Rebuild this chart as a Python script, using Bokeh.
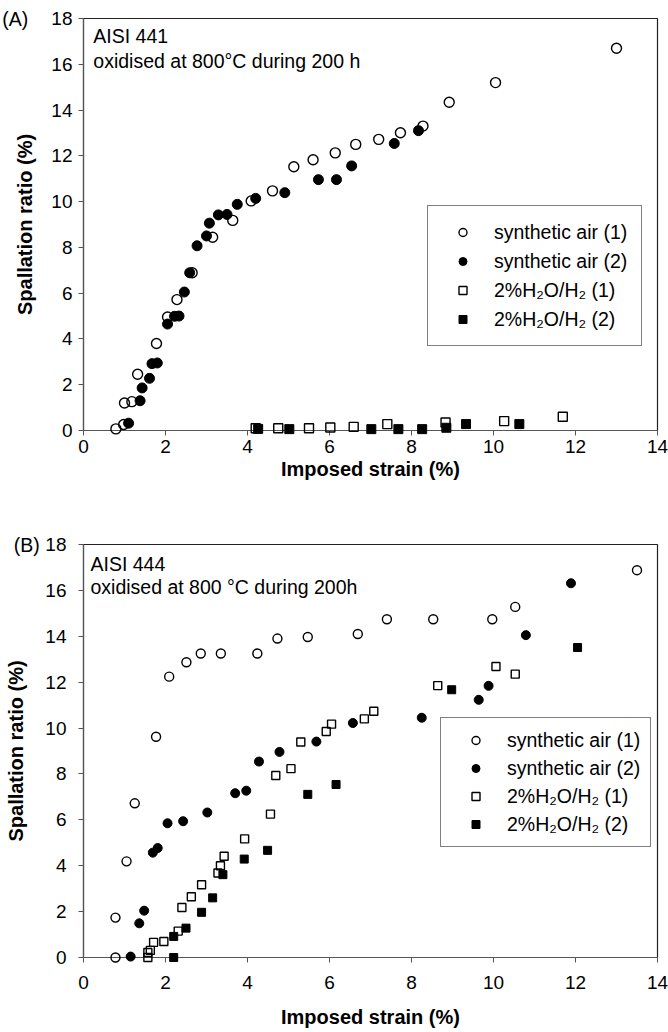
from bokeh.plotting import figure
from bokeh.layouts import column
from bokeh.models import Range1d, FixedTicker, Label, Legend, LegendItem
from bokeh.core.properties import value
from bokeh.embed import file_html
from bokeh.resources import INLINE

FONT = "Liberation Sans"

x_ticks = [0, 2, 4, 6, 8, 10, 12, 14]
y_ticks = [0, 2, 4, 6, 8, 10, 12, 14, 16, 18]

legend_labels = ["synthetic air (1)", "synthetic air (2)", "2%H\u2082O/H\u2082 (1)", "2%H\u2082O/H\u2082 (2)"]

# ---------------- Panel A : AISI 441 ----------------
a_air1_x = [0.79, 0.98, 1.00, 1.18, 1.32, 1.78, 2.05, 2.28, 2.65, 3.15, 3.64, 4.09, 4.61, 5.13, 5.60, 6.14, 6.64, 7.20, 7.73, 8.28, 8.92, 10.05, 13.0]
a_air1_y = [0.07, 0.26, 1.20, 1.26, 2.46, 3.80, 4.96, 5.72, 6.89, 8.44, 9.18, 10.03, 10.47, 11.52, 11.83, 12.13, 12.50, 12.72, 13.01, 13.30, 14.34, 15.20, 16.70]
a_air2_x = [1.10, 1.38, 1.43, 1.61, 1.67, 1.80, 2.05, 2.22, 2.33, 2.46, 2.59, 2.77, 3.00, 3.07, 3.29, 3.50, 3.75, 4.20, 4.91, 5.73, 6.17, 6.54, 7.58, 8.17]
a_air2_y = [0.32, 1.30, 1.86, 2.28, 2.92, 2.95, 4.65, 4.99, 5.00, 6.05, 6.89, 8.07, 8.50, 9.06, 9.42, 9.44, 9.88, 10.14, 10.39, 10.96, 10.96, 11.56, 12.54, 13.10]
a_h2o1_x = [4.20, 4.75, 5.50, 6.02, 6.59, 7.41, 8.83, 10.26, 11.69]
a_h2o1_y = [0.10, 0.10, 0.10, 0.13, 0.16, 0.28, 0.35, 0.41, 0.60]
a_h2o2_x = [4.26, 5.02, 7.02, 7.68, 8.26, 8.85, 9.33, 10.63]
a_h2o2_y = [0.07, 0.06, 0.06, 0.06, 0.06, 0.12, 0.28, 0.28]

# ---------------- Panel B : AISI 444 ----------------
b_air1_x = [0.78, 0.78, 1.05, 1.25, 1.77, 2.09, 2.51, 2.86, 3.35, 4.24, 4.73, 5.47, 6.69, 7.40, 8.53, 9.97, 10.53, 13.50]
b_air1_y = [0.00, 1.74, 4.19, 6.72, 9.62, 12.24, 12.87, 13.25, 13.25, 13.25, 13.90, 13.97, 14.10, 14.74, 14.74, 14.74, 15.28, 16.88]
b_air2_x = [1.15, 1.36, 1.48, 1.69, 1.81, 2.05, 2.43, 3.02, 3.70, 3.97, 4.28, 4.78, 5.68, 6.57, 8.25, 9.64, 9.88, 10.79, 11.89]
b_air2_y = [0.04, 1.49, 2.04, 4.57, 4.77, 5.85, 5.94, 6.32, 7.16, 7.27, 8.54, 8.96, 9.41, 10.22, 10.45, 11.23, 11.84, 14.05, 16.31]
b_h2o1_x = [1.57, 1.57, 1.63, 1.71, 1.96, 2.31, 2.40, 2.63, 2.88, 3.28, 3.34, 3.43, 3.93, 4.56, 4.69, 5.06, 5.30, 5.92, 6.05, 6.85, 7.08, 8.64, 10.06, 10.53]
b_h2o1_y = [0.00, 0.22, 0.31, 0.66, 0.70, 1.15, 2.18, 2.65, 3.17, 3.68, 4.00, 4.41, 5.17, 6.25, 7.93, 8.23, 9.39, 9.85, 10.17, 10.40, 10.73, 11.85, 12.68, 12.35]
b_h2o2_x = [2.20, 2.20, 2.50, 2.88, 3.15, 3.40, 3.92, 4.49, 5.47, 6.16, 8.98, 12.05]
b_h2o2_y = [0.00, 0.92, 1.28, 1.97, 2.60, 3.61, 4.29, 4.67, 7.11, 7.54, 11.67, 13.51]


def make_panel(height, border_top, border_left, border_bottom, series, msize_c, msize_s,
               ytick_standoff, xtick_standoff, ylab_standoff, xlab_standoff,
               panel_label, panel_label_x, title1, title2, title_x, title_y1, title_y2,
               legend_loc, legend_pad, legend_spacing, legend_glyph_w, legend_standoff):
    p = figure(width=668, height=height, output_backend="svg", toolbar_location=None,
               x_range=Range1d(0, 14), y_range=Range1d(0, 18),
               min_border_top=border_top, min_border_left=border_left,
               min_border_bottom=border_bottom, min_border_right=11)
    p.background_fill_color = "white"
    p.border_fill_color = "white"
    p.outline_line_color = "#222222"
    p.outline_line_width = 1.2
    p.xgrid.visible = False
    p.ygrid.visible = False

    p.xaxis.ticker = FixedTicker(ticks=x_ticks, minor_ticks=[])
    p.yaxis.ticker = FixedTicker(ticks=y_ticks, minor_ticks=[])
    for ax in (p.xaxis[0], p.yaxis[0]):
        ax.axis_line_color = "#555555"
        ax.axis_line_width = 1.2
        ax.major_tick_line_color = "#555555"
        ax.major_tick_in = 0
        ax.major_tick_out = 5
        ax.minor_tick_out = 0
        ax.minor_tick_in = 0
        ax.major_label_text_font = FONT
        ax.major_label_text_font_size = "19px"
        ax.major_label_text_color = "black"
        ax.axis_label_text_font = FONT
        ax.axis_label_text_font_size = "20px"
        ax.axis_label_text_font_style = "bold"
        ax.axis_label_text_color = "black"
    p.xaxis.axis_label = "Imposed strain (%)"
    p.yaxis.axis_label = "Spallation ratio (%)"
    p.xaxis.major_label_standoff = xtick_standoff
    p.yaxis.major_label_standoff = ytick_standoff
    p.xaxis.axis_label_standoff = xlab_standoff
    p.yaxis.axis_label_standoff = ylab_standoff

    (x1, y1), (x2, y2), (x3, y3), (x4, y4) = series
    r1 = p.scatter(x1, y1, marker="circle", size=msize_c, fill_color=None, line_color="black", line_width=1.4)
    r2 = p.scatter(x2, y2, marker="circle", size=msize_c, fill_color="black", line_color="black", line_width=1)
    r3 = p.scatter(x3, y3, marker="square", size=msize_s, fill_color=None, line_color="black", line_width=1.4)
    r4 = p.scatter(x4, y4, marker="square", size=msize_s, fill_color="black", line_color="black", line_width=1)
    for r in (r1, r2, r3, r4):
        r.level = "overlay"

    legend = Legend(items=[LegendItem(label=lab, renderers=[r]) for lab, r in zip(legend_labels, (r1, r2, r3, r4))],
                    location=legend_loc, margin=0, padding=legend_pad, spacing=legend_spacing,
                    glyph_width=legend_glyph_w, glyph_height=20, label_height=24, label_standoff=legend_standoff,
                    label_text_font=FONT, label_text_font_size="19.5px", label_text_color="black",
                    border_line_color="black", border_line_width=1,
                    background_fill_color="white", background_fill_alpha=1.0)
    p.add_layout(legend)

    pl = p.text(x=[panel_label_x], y=[18], text=[panel_label], text_font=value(FONT),
                text_font_size=value("19.5px"), text_baseline="middle", text_align="left", text_color="black")
    pl.level = "overlay"

    p.add_layout(Label(x=title_x, y=title_y1, text=title1, text_font=FONT, text_font_size="19.5px",
                       text_baseline="middle", text_align="left", text_color="black"))
    p.add_layout(Label(x=title_x, y=title_y2, text=title2, text_font=FONT, text_font_size="19.5px",
                       text_baseline="middle", text_align="left", text_color="black"))
    return p


pA = make_panel(482, 18, 83, 52,
                [(a_air1_x, a_air1_y), (a_air2_x, a_air2_y), (a_h2o1_x, a_h2o1_y), (a_h2o2_x, a_h2o2_y)],
                10, 9, 6, 4, 12, 2,
                "(A)", -1.98, "AISI 441", "oxidised at 800\u00b0C during 200 h", 0.24, 17.25, 16.15,
                (344, 84), 14, 5, 41, 11)

pB = make_panel(548, 62, 80, 73,
                [(b_air1_x, b_air1_y), (b_air2_x, b_air2_y), (b_h2o1_x, b_h2o1_y), (b_h2o2_x, b_h2o2_y)],
                9, 8, 12, 13, 15, 14,
                "(B)", -1.70, "AISI 444", "oxidised at 800 \u00b0C during 200h", 0.17, 17.15, 16.15,
                (357, 110), 10, 4, 49, 7)

layout = column(pA, pB, spacing=0)
open("out.html", "w").write(file_html(layout, INLINE))
